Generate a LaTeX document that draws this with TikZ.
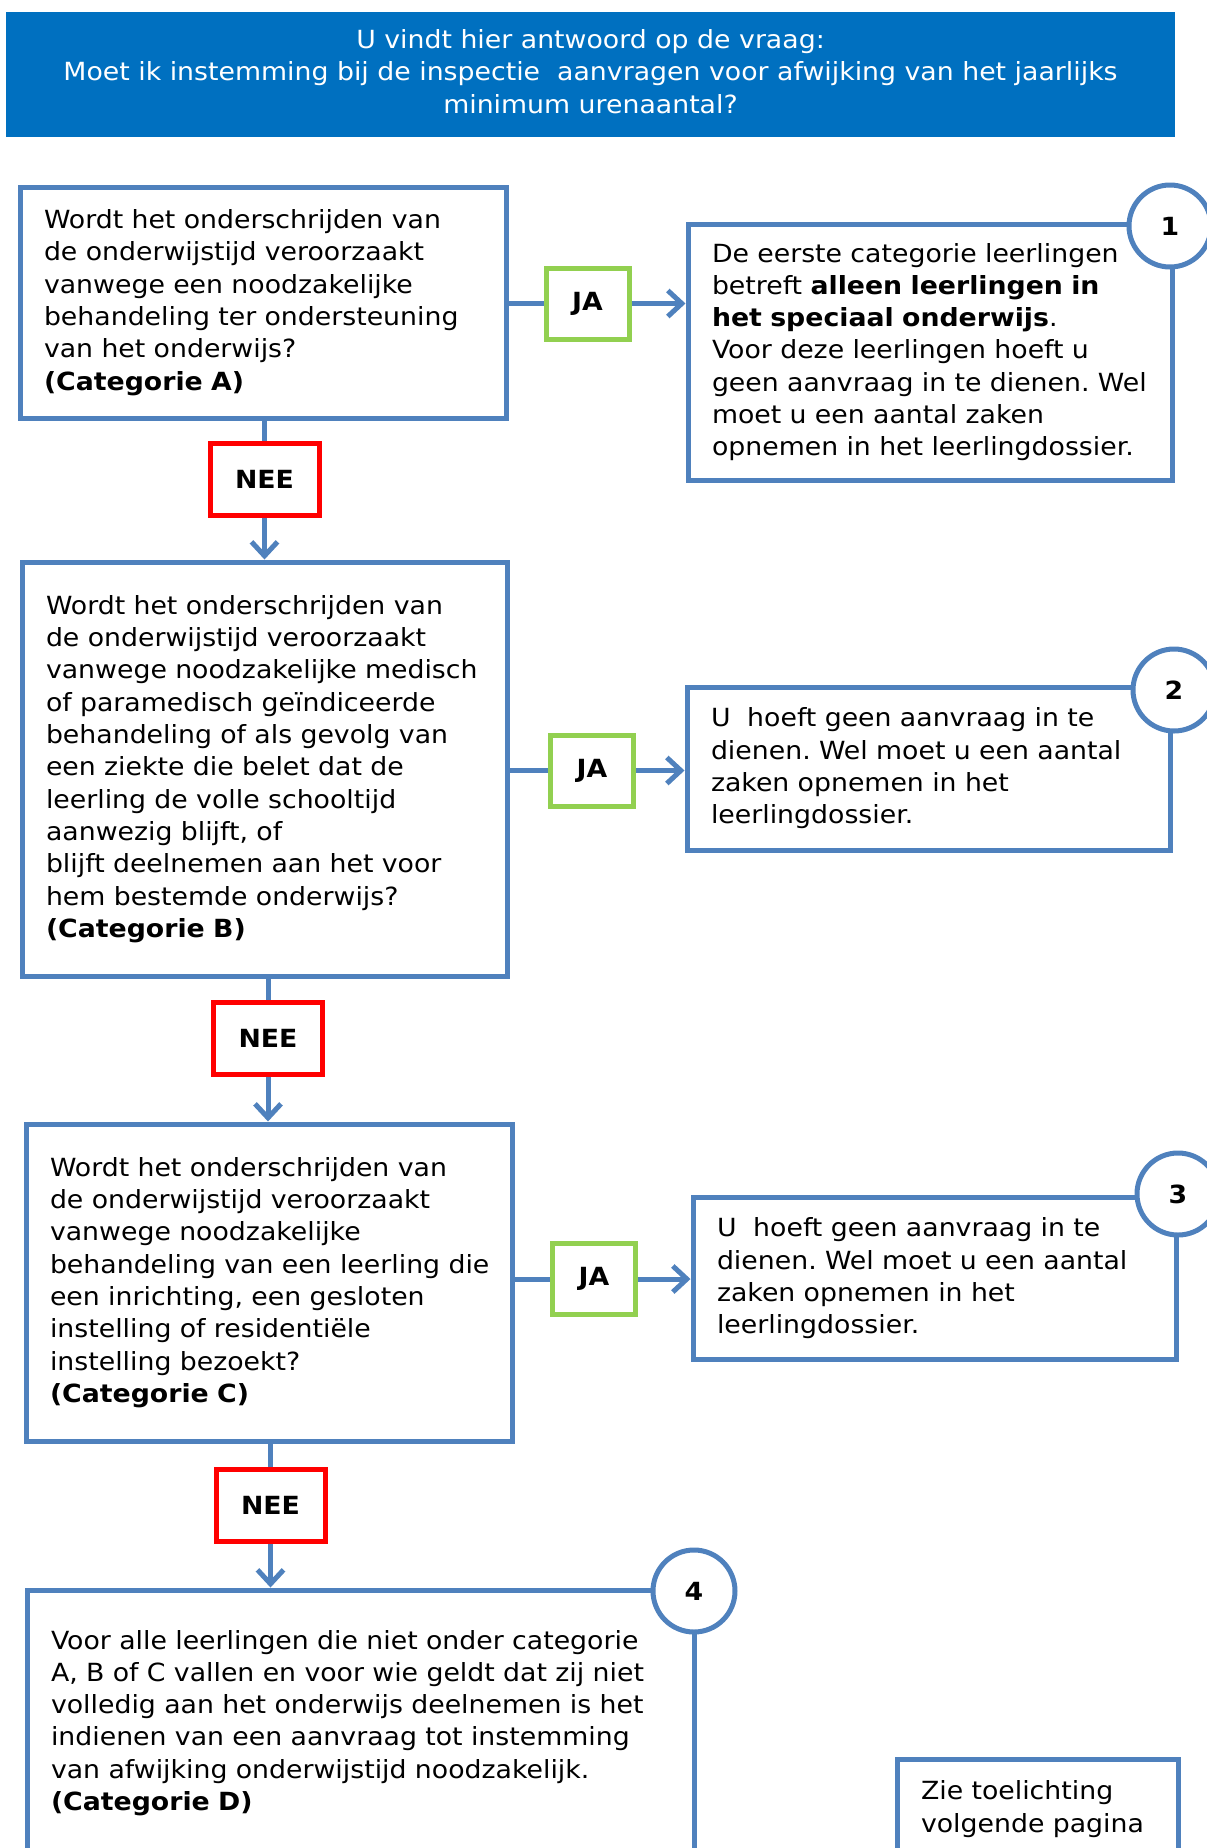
\documentclass[tikz,border=0pt]{standalone}
\usepackage{fontspec}
\setmainfont[FakeStretch=1.07]{DejaVu Sans}
\usetikzlibrary{arrows.meta}
\definecolor{hdr}{RGB}{0,112,192}
\definecolor{bl}{RGB}{79,129,189}
\definecolor{gr}{RGB}{146,208,80}
\definecolor{rd}{RGB}{255,0,0}
\frenchspacing
\begin{document}
\begin{tikzpicture}[x=1pt,y=-1pt,
  txt/.style={font=\fontsize{25}{32.3}\selectfont},
  box/.style={draw=bl, line width=5pt, fill=white, align=left, inner xsep=24pt, inner ysep=0pt, txt},
  ja/.style={draw=gr, line width=5pt, fill=white, minimum width=83pt, minimum height=71pt, inner sep=0pt, font=\fontsize{25}{28}\selectfont\bfseries},
  nee/.style={draw=rd, line width=5pt, fill=white, minimum width=109pt, minimum height=72pt, inner sep=0pt, font=\fontsize{25}{28}\selectfont\bfseries},
  num/.style={circle, draw=bl, line width=5pt, fill=white, minimum size=82pt, inner sep=0pt, font=\fontsize{25}{28}\selectfont\bfseries},
  conn/.style={draw=bl, line width=5pt},
  arr/.style={conn, -{Straight Barb[length=14pt,width=26pt]}}
]
\useasboundingbox (0,0) rectangle (1207,1848);

% header
\node[fill=hdr, minimum width=1169pt, minimum height=125pt, inner sep=0pt] (hdr) at (590.5,74.5) {};
\node[text=white, align=center, inner sep=0pt, font=\fontsize{25}{32.4}\selectfont] (hdrtxt) at (590.5,71.5)
  {U vindt hier antwoord op de vraag:\\ Moet ik instemming bij de inspectie\ \ aanvragen voor afwijking van het jaarlijks\\ minimum urenaantal?};

% question boxes
\node[box, minimum width=486pt, minimum height=231pt, text width=438pt] (A) at (263,302.5)
  {Wordt het onderschrijden van\\ de onderwijstijd veroorzaakt\\ vanwege een noodzakelijke\\ behandeling ter ondersteuning\\ van het onderwijs?\\ \textbf{(Categorie A)}};
\node[box, minimum width=485pt, minimum height=414pt, text width=437pt] (B) at (264.5,769)
  {Wordt het onderschrijden van\\ de onderwijstijd veroorzaakt\\ vanwege noodzakelijke medisch\\ of paramedisch geïndiceerde\\ behandeling of als gevolg van\\ een ziekte die belet dat de\\ leerling de volle schooltijd\\ aanwezig blijft, of\\ blijft deelnemen aan het voor\\ hem bestemde onderwijs?\\ \textbf{(Categorie B)}};
\node[box, minimum width=486pt, minimum height=317pt, text width=438pt] (C) at (269,1282.5)
  {Wordt het onderschrijden van\\ de onderwijstijd veroorzaakt\\ vanwege noodzakelijke\\ \mbox{behandeling van een leerling die}\\ een inrichting, een gesloten\\ instelling of residentiële\\ instelling bezoekt?\\ \textbf{(Categorie C)}};
\node[box, minimum width=667pt, minimum height=266pt, text width=619pt] (D) at (360.5,1723)
  {Voor alle leerlingen die niet onder categorie\\ A, B of C vallen en voor wie geldt dat zij niet\\ volledig aan het onderwijs deelnemen is het\\ indienen van een aanvraag tot instemming\\ van afwijking onderwijstijd noodzakelijk.\\ \textbf{(Categorie D)}};

% answer boxes
\node[box, minimum width=484pt, minimum height=256pt, text width=436pt] (R1) at (930,352)
  {De eerste categorie leerlingen\\ betreft \textbf{alleen leerlingen in}\\ \textbf{het speciaal onderwijs}.\\ Voor deze leerlingen hoeft u\\ geen aanvraag in te dienen. Wel\\ moet u een aantal zaken\\ opnemen in het leerlingdossier.};
\node[box, minimum width=483pt, minimum height=163pt, text width=435pt] (R2) at (928.5,768.5)
  {U\ \ hoeft geen aanvraag in te\\ dienen. Wel moet u een aantal\\ zaken opnemen in het\\ leerlingdossier.};
\node[box, minimum width=483pt, minimum height=162pt, text width=435pt] (R3) at (934.5,1278.5)
  {U\ \ hoeft geen aanvraag in te\\ dienen. Wel moet u een aantal\\ zaken opnemen in het\\ leerlingdossier.};
\node[box, minimum width=281pt, minimum height=100pt, text width=233pt] (Z) at (1037.5,1809)
  {Zie toelichting\\ volgende pagina};

% JA / NEE labels
\node[ja] (jaA) at (587.5,303.5) {JA};
\node[ja] (jaB) at (592,770.5) {JA};
\node[ja] (jaC) at (594,1279) {JA};
\node[nee] (neeA) at (264.5,479) {NEE};
\node[nee] (neeB) at (268,1038) {NEE};
\node[nee] (neeC) at (270.5,1505.5) {NEE};

% connectors
\draw[conn] (A.east |- jaA.west) -- (jaA.west);
\draw[arr] (jaA.east) -- (jaA.east -| R1.west);
\draw[conn] (B.east |- jaB.west) -- (jaB.west);
\draw[arr] (jaB.east) -- (jaB.east -| R2.west);
\draw[conn] (C.east |- jaC.west) -- (jaC.west);
\draw[arr] (jaC.east) -- (jaC.east -| R3.west);

\draw[conn] (neeA.north |- A.south) -- (neeA.north);
\draw[arr] (neeA.south) -- (neeA.south |- B.north);
\draw[conn] (neeB.north |- B.south) -- (neeB.north);
\draw[arr] (neeB.south) -- (neeB.south |- C.north);
\draw[conn] (neeC.north |- C.south) -- (neeC.north);
\draw[arr] (neeC.south) -- (neeC.south |- D.north);

% numbered circles
\node[num] (n1) at (1170,226) {1};
\node[num] (n2) at (1174,690) {2};
\node[num] (n3) at (1178,1194) {3};
\node[num] (n4) at (694,1591) {4};
\end{tikzpicture}
\end{document}
